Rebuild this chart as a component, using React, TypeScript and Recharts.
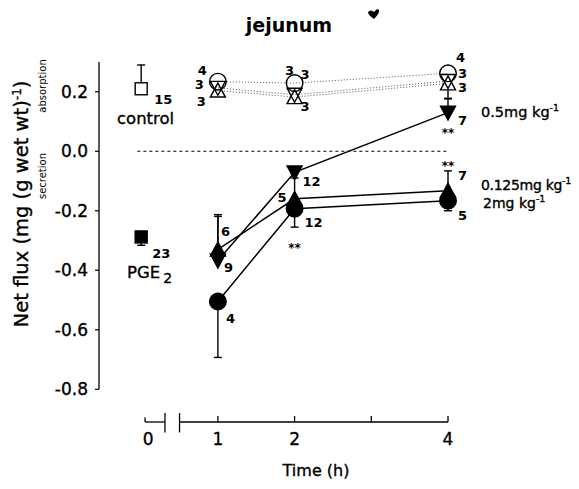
import React from "react";
import {
  ScatterChart,
  Scatter,
  XAxis,
  YAxis,
  ErrorBar,
  ReferenceLine,
} from "recharts";

const FONT = "DejaVu Sans";

// sampling times (h)
const TIMES = [1, 2, 4];

// open symbols (controls over time)
const OPEN_CIRCLE = [0.234, 0.229, 0.262];
const OPEN_CIRCLE_N = [4, 3, 4];
const OPEN_DOWN = [0.213, 0.19, 0.236];
const OPEN_DOWN_N = [3, 3, 3];
const OPEN_UP = [0.204, 0.182, 0.228];
const OPEN_UP_N = [3, 3, 3];
const OPEN_UP_ERR = [null, null, [0.052, 0]];

// filled symbols (doses)
const DOSE_05 = [-0.367, -0.071, 0.13];
const DOSE_05_N = [6, 12, 7];
const DOSE_05_ERR = [[0, 0.154], null, [0, 0.048]];
const DOSE_05_SIG = ["", "", "**"];

const DOSE_0125 = [-0.33, -0.16, -0.133];
const DOSE_0125_N = [9, 5, 7];
const DOSE_0125_ERR = [[0, 0.111], [0, 0.07], [0, 0.067]];
const DOSE_0125_SIG = ["", "", "**"];

const DOSE_2 = [-0.505, -0.193, -0.166];
const DOSE_2_N = [4, 12, 5];
const DOSE_2_ERR = [[0.188, 0], [0.062, 0], [0.034, 0]];
const DOSE_2_SIG = ["", "**", ""];

// time 0 points
const CONTROL = [0.21];
const CONTROL_N = [15];
const CONTROL_ERR = [[0, 0.08]];
const PGE2 = [-0.288];
const PGE2_N = [23];
const PGE2_ERR = [[0.028, 0]];

const X_TICKS = [0, 1, 2, 4];
const Y_TICKS = [-0.8, -0.6, -0.4, -0.2, 0, 0.2];

// label placement (px offsets from the point)
type Pos = [number, number, string];
const POS: Record<string, Pos[]> = {
  circle: [[-11, -7, "end"], [-5, -8, "middle"], [8, -11, "start"]],
  down: [[-14, 1, "end"], [6, -16, "start"], [10, -3, "start"]],
  up: [[-12, 15, "end"], [6, 14, "start"], [10, 9, "start"]],
  d05: [[3, -24, "start"], [8, 14, "start"], [10, 12, "start"]],
  d0125: [[6, 23, "start"], [-8, 3, "end"], [10, -11, "start"]],
  d2: [[8, 21, "start"], [10, 18, "start"], [10, 19, "start"]],
  control: [[13, 15, "start"]],
  pge: [[11, 21, "start"]],
};
const SIG_DY: Record<string, number[]> = {
  d05: [0, 0, 24],
  d0125: [0, 0, -21],
  d2: [0, 43, 0],
};

const build = (xs: number[], ys: number[], ns: number[], errs?: any[], sigs?: string[]) =>
  xs.map((x, i) => ({
    x,
    y: ys[i],
    n: ns[i],
    err: errs ? errs[i] : null,
    sig: sigs ? sigs[i] : "",
    i,
  }));

const marker = (kind: string, cx: number, cy: number, fill: string) => {
  const sw = 1.4;
  if (kind === "circle")
    return <circle cx={cx} cy={cy} r={8.3} fill={fill} stroke="#000" strokeWidth={sw} />;
  if (kind === "up")
    return (
      <polygon
        points={`${cx},${cy - 7.5} ${cx + 7.5},${cy + 6.5} ${cx - 7.5},${cy + 6.5}`}
        fill={fill}
        stroke="#000"
        strokeWidth={sw}
      />
    );
  if (kind === "down")
    return (
      <polygon
        points={`${cx - 7.5},${cy - 6.5} ${cx + 7.5},${cy - 6.5} ${cx},${cy + 7.5}`}
        fill={fill}
        stroke="#000"
        strokeWidth={sw}
      />
    );
  return (
    <rect x={cx - 6} y={cy - 6} width={12} height={12} fill={fill} stroke="#000" strokeWidth={sw} />
  );
};

const makeShape = (kind: string, fill: string, posKey: string) => (props: any) => {
  const { cx, cy, payload } = props;
  if (cx == null || cy == null || !payload) return <g />;
  const [dx, dy, anchor] = POS[posKey][payload.i];
  const sdy = SIG_DY[posKey] ? SIG_DY[posKey][payload.i] : 0;
  return (
    <g>
      {marker(kind, cx, cy, fill)}
      <text
        x={cx + dx}
        y={cy + dy}
        textAnchor={anchor as any}
        fontFamily={FONT}
        fontWeight="bold"
        fontSize={13}
        fill="#000"
      >
        {payload.n}
      </text>
      {payload.sig ? (
        <text
          x={cx}
          y={cy + sdy}
          textAnchor="middle"
          fontFamily={FONT}
          fontWeight="bold"
          fontSize={12}
          fill="#000"
        >
          {payload.sig}
        </text>
      ) : null}
    </g>
  );
};

const XTick = (props: any) => {
  const { x, y, payload } = props;
  const shift = payload.value === 0 ? 7 : 0;
  return (
    <text
      x={x + shift}
      y={y}
      dy={15}
      textAnchor="middle"
      fontFamily={FONT}
      fontSize={17}
      fill="#000"
      stroke="#000"
      strokeWidth={0.35}
    >
      {payload.value}
    </text>
  );
};

const openLine = { stroke: "#555", strokeWidth: 1, strokeDasharray: "1 2" };
const solidLine = { stroke: "#000", strokeWidth: 1.5 };
const errProps = { direction: "y" as const, width: 4, stroke: "#000", strokeWidth: 1.4 };

export default function App() {
  const openUp = build(TIMES, OPEN_UP, OPEN_UP_N, OPEN_UP_ERR);
  const openCircle = build(TIMES, OPEN_CIRCLE, OPEN_CIRCLE_N);
  const openDown = build(TIMES, OPEN_DOWN, OPEN_DOWN_N);
  const d2 = build(TIMES, DOSE_2, DOSE_2_N, DOSE_2_ERR, DOSE_2_SIG);
  const d0125 = build(TIMES, DOSE_0125, DOSE_0125_N, DOSE_0125_ERR, DOSE_0125_SIG);
  const d05 = build(TIMES, DOSE_05, DOSE_05_N, DOSE_05_ERR, DOSE_05_SIG);
  const control = build([0], CONTROL, CONTROL_N, CONTROL_ERR);
  const pge = build([0], PGE2, PGE2_N, PGE2_ERR);

  const ax = { stroke: "#000", strokeWidth: 1.3, ifOverflow: "visible" as const };

  return (
    <div style={{ position: "absolute", left: 0, top: 0, width: 579, height: 489, background: "#fff" }}>
      <ScatterChart width={579} height={489} margin={{ top: 62, right: 131, bottom: 37, left: 59 }}>
        <XAxis
          type="number"
          dataKey="x"
          domain={[-0.55, 4]}
          ticks={X_TICKS}
          axisLine={false}
          tickLine={false}
          tick={<XTick />}
          height={30}
        />
        <YAxis
          type="number"
          dataKey="y"
          domain={[-0.91, 0.3]}
          ticks={Y_TICKS}
          tickFormatter={(v: number) => v.toFixed(1)}
          axisLine={false}
          tickLine={{ stroke: "#000", strokeWidth: 1.2 }}
          tickSize={4}
          tickMargin={7}
          width={40}
          tick={{ fontFamily: FONT, fontSize: 17, fill: "#000", stroke: "#000", strokeWidth: 0.35 }}
        />
        {/* y axis line */}
        <ReferenceLine segment={[{ x: -0.55, y: -0.8 }, { x: -0.55, y: 0.3 }]} {...ax} />
        {/* broken x axis */}
        <ReferenceLine segment={[{ x: 0.05, y: -0.91 }, { x: 0.31, y: -0.91 }]} {...ax} />
        <ReferenceLine segment={[{ x: 0.05, y: -0.91 }, { x: 0.05, y: -0.895 }]} {...ax} />
        <ReferenceLine segment={[{ x: 0.31, y: -0.88 }, { x: 0.31, y: -0.945 }]} {...ax} />
        <ReferenceLine segment={[{ x: 0.5, y: -0.88 }, { x: 0.5, y: -0.945 }]} {...ax} />
        <ReferenceLine segment={[{ x: 0.5, y: -0.91 }, { x: 4, y: -0.91 }]} {...ax} />
        {[1, 2, 3, 4].map((t) => (
          <ReferenceLine key={t} segment={[{ x: t, y: -0.91 }, { x: t, y: -0.89 }]} {...ax} />
        ))}
        {/* zero line */}
        <ReferenceLine
          segment={[{ x: -0.05, y: 0 }, { x: 4, y: 0 }]}
          stroke="#000"
          strokeWidth={1}
          strokeDasharray="3 3"
        />

        <Scatter data={openUp} line={openLine} shape={makeShape("up", "#fff", "up")} isAnimationActive={false}>
          <ErrorBar dataKey="err" {...errProps} />
        </Scatter>
        <Scatter data={openCircle} line={openLine} shape={makeShape("circle", "none", "circle")} isAnimationActive={false} />
        <Scatter data={openDown} line={openLine} shape={makeShape("down", "none", "down")} isAnimationActive={false} />

        <Scatter data={d2} line={solidLine} shape={makeShape("circle", "#000", "d2")} isAnimationActive={false}>
          <ErrorBar dataKey="err" {...errProps} />
        </Scatter>
        <Scatter data={d0125} line={solidLine} shape={makeShape("up", "#000", "d0125")} isAnimationActive={false}>
          <ErrorBar dataKey="err" {...errProps} />
        </Scatter>
        <Scatter data={d05} line={solidLine} shape={makeShape("down", "#000", "d05")} isAnimationActive={false}>
          <ErrorBar dataKey="err" {...errProps} />
        </Scatter>

        <Scatter data={control} shape={makeShape("square", "#fff", "control")} isAnimationActive={false}>
          <ErrorBar dataKey="err" {...errProps} />
        </Scatter>
        <Scatter data={pge} shape={makeShape("square", "#000", "pge")} isAnimationActive={false}>
          <ErrorBar dataKey="err" {...errProps} />
        </Scatter>
      </ScatterChart>

      <svg
        width={579}
        height={489}
        style={{ position: "absolute", left: 0, top: 0, pointerEvents: "none" }}
        fontFamily={FONT}
      >
        <text x={289} y={32} textAnchor="middle" fontWeight="bold" fontSize={19}>
          jejunum
        </text>
        <path d="M368 12 q3 -3 6 0 q3 -4 5 -2 q1 3 -5 9 q-6 -4 -6 -7z" fill="#000" />
        <g stroke="#000" strokeWidth={0.35}>
          <text transform="translate(28,204) rotate(-90)" textAnchor="middle" fontSize={19.5}>
            Net flux (mg (g wet wt)
            <tspan dy={-7} fontSize={12}>-1</tspan>
            <tspan dy={7}>)</tspan>
          </text>
          <text x={117} y={124} fontSize={16.5}>
            control
          </text>
          <text x={127} y={278} fontSize={16.5}>
            PGE
            <tspan dx={3} dy={5} fontSize={14}>2</tspan>
          </text>
          <text x={481} y={117} fontSize={14.5}>
            0.5mg kg
            <tspan dy={-6} fontSize={9.5}>-1</tspan>
          </text>
          <text x={481} y={190} fontSize={14} letterSpacing={-0.3}>
            0.125mg kg
            <tspan dy={-6} fontSize={9.5}>-1</tspan>
          </text>
          <text x={483} y={208} fontSize={14}>
            2mg kg
            <tspan dy={-6} fontSize={9.5}>-1</tspan>
          </text>
          <text x={316} y={476} textAnchor="middle" fontSize={16}>
            Time (h)
          </text>
        </g>
        <text transform="translate(46,86) rotate(-90)" textAnchor="middle" fontSize={10}>
          absorption
        </text>
        <text transform="translate(46,176) rotate(-90)" textAnchor="middle" fontSize={10}>
          secretion
        </text>
      </svg>
    </div>
  );
}
